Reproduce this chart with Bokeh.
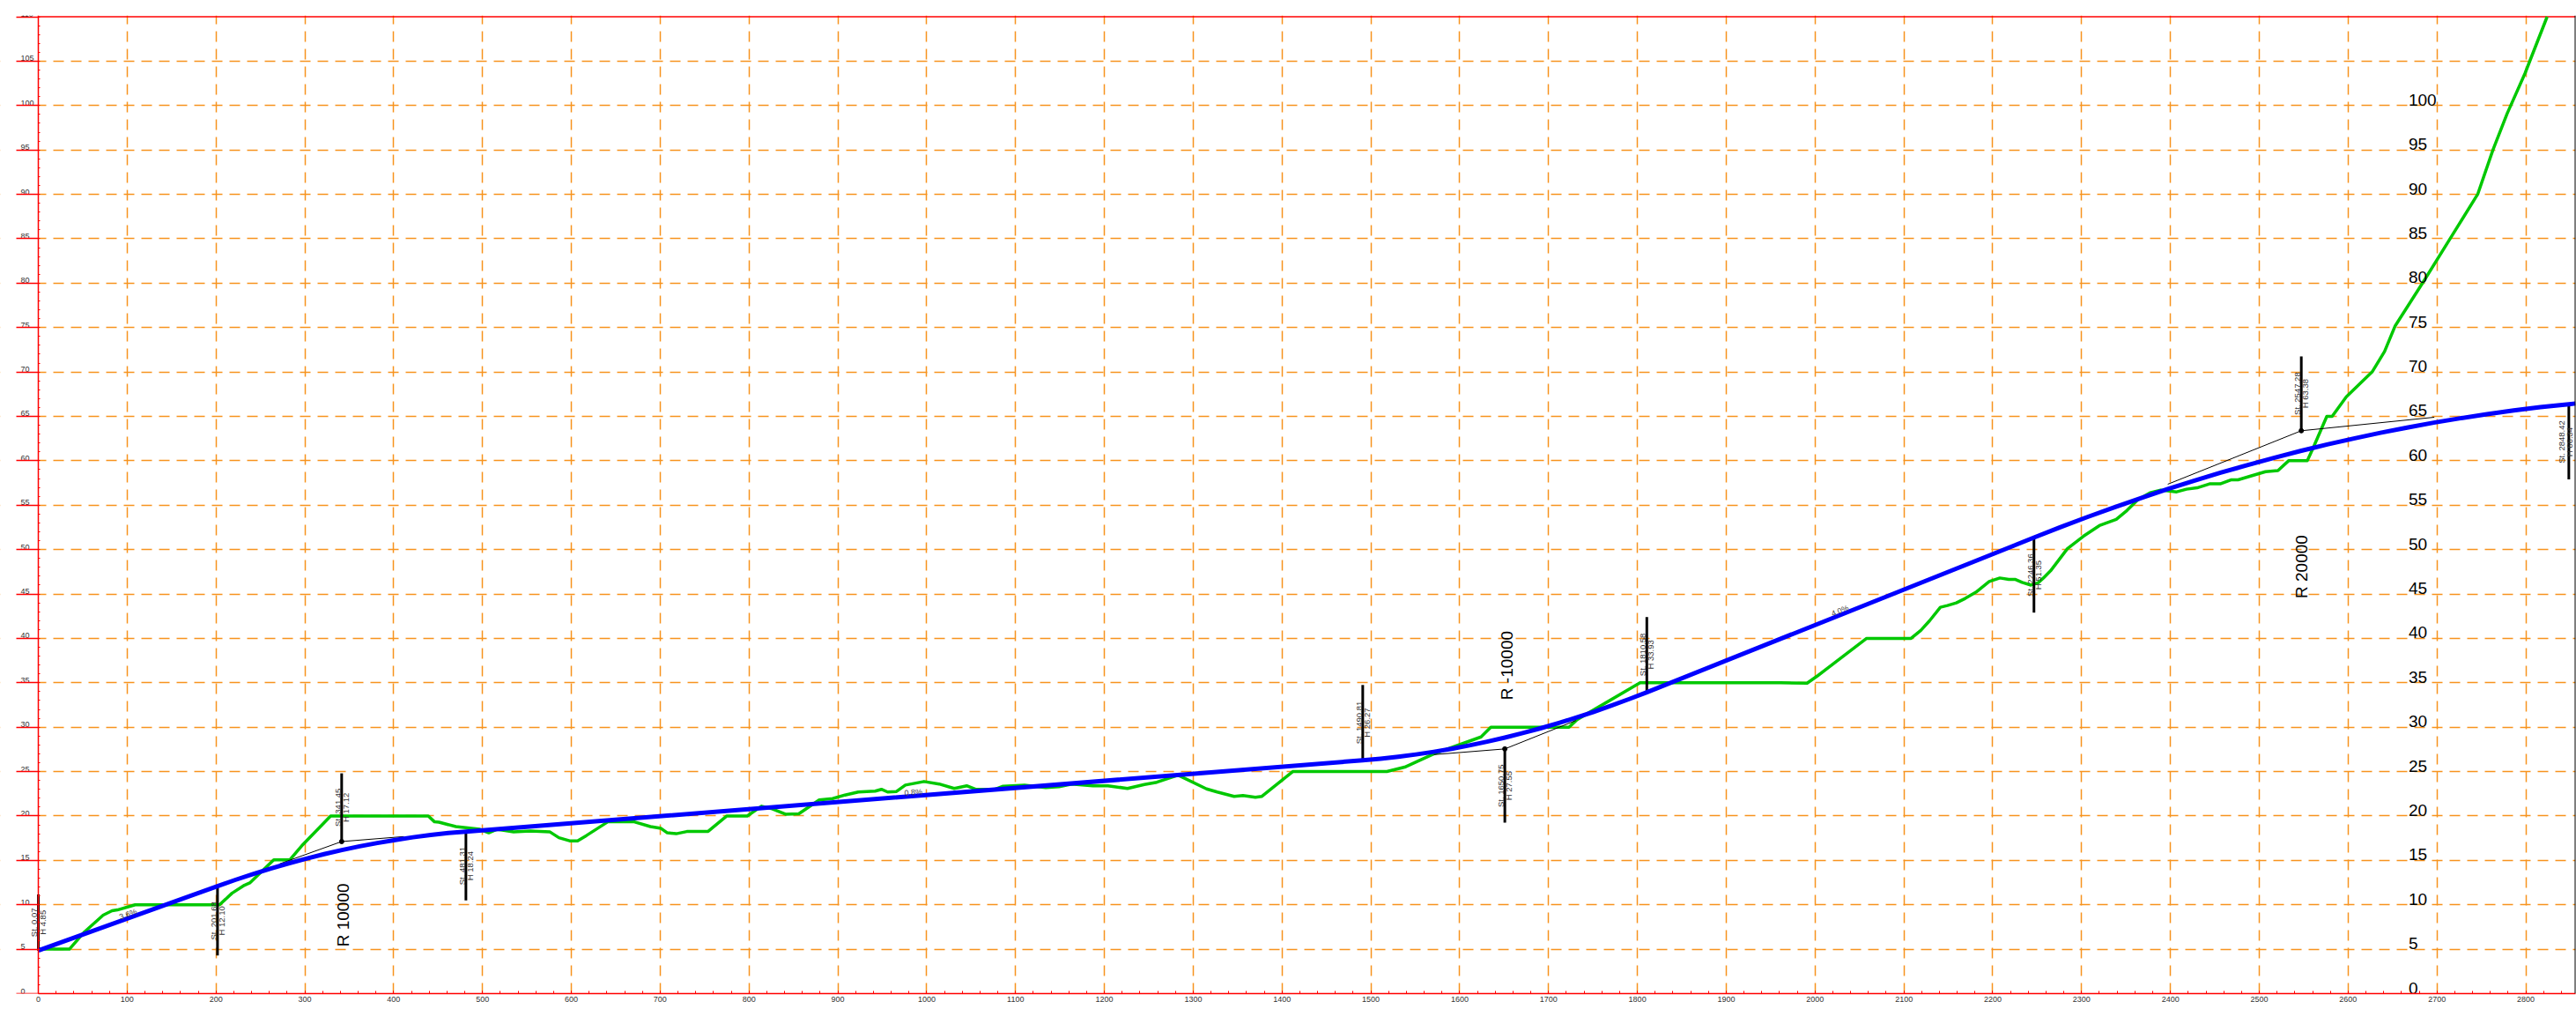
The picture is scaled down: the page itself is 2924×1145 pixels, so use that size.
import math
from bokeh.plotting import figure
from bokeh.models import Range1d, FixedTicker, Span, LinearAxis
from bokeh.core.properties import value
from bokeh.embed import file_html
from bokeh.resources import INLINE

# ---------------- data ----------------
# existing ground (green)
ground_st = [0, 35, 52, 73, 83, 89, 109, 204, 218, 232, 238, 265, 283, 298, 329, 439, 446, 451, 470, 497,
             507, 516, 535, 554, 576, 586, 598, 607, 617, 641, 670, 689, 701, 708, 718, 730, 754, 775, 798,
             814, 826, 841, 856, 879, 894, 908, 923, 942, 949, 956, 966, 976, 997, 1014, 1031, 1045, 1055,
             1077, 1086, 1110, 1134, 1149, 1163, 1187, 1204, 1226, 1245, 1259, 1283, 1315, 1327, 1346, 1356,
             1370, 1377, 1412, 1518, 1538, 1571, 1624, 1635, 1723, 1732, 1803, 1961, 1991, 2003, 2058, 2108,
             2119, 2129, 2141, 2149, 2159, 2169, 2181, 2196, 2208, 2218, 2225, 2233, 2243, 2251, 2257, 2265,
             2284, 2302, 2320, 2339, 2351, 2363, 2377, 2389, 2407, 2418, 2430, 2444, 2456, 2468, 2476, 2491,
             2507, 2521, 2533, 2554, 2560, 2576, 2582, 2598, 2627, 2641, 2653, 2685, 2716, 2746, 2763, 2779,
             2799, 2824]
ground_h = [5.0, 5.0, 6.95, 8.83, 9.33, 9.42, 10.0, 10.0, 11.3, 12.2, 12.46, 15.05, 15.05, 16.8, 20.0, 20.0,
            19.34, 19.3, 18.8, 18.5, 18.1, 18.5, 18.2, 18.3, 18.2, 17.55, 17.2, 17.2, 17.8, 19.34, 19.37, 18.8,
            18.6, 18.1, 18.0, 18.25, 18.27, 20.0, 20.0, 21.1, 20.8, 20.2, 20.25, 21.8, 21.96, 22.36, 22.7, 22.8,
            23.0, 22.7, 22.76, 23.48, 23.88, 23.6, 23.1, 23.4, 23.0, 23.0, 23.35, 23.48, 23.2, 23.3, 23.6, 23.4,
            23.4, 23.1, 23.55, 23.8, 24.6, 23.05, 22.7, 22.2, 22.3, 22.1, 22.2, 25.0, 25.0, 25.5, 27.0, 28.9,
            30.0, 30.0, 30.85, 35.0, 35.0, 34.95, 35.8, 40.0, 40.0, 40.9, 42.0, 43.5, 43.7, 44.0, 44.5, 45.2,
            46.4, 46.8, 46.65, 46.65, 46.3, 46.0, 46.25, 46.8, 47.6, 50.1, 51.5, 52.7, 53.4, 54.4, 55.6, 56.4,
            56.7, 56.5, 56.8, 56.95, 57.4, 57.4, 57.85, 57.85, 58.3, 58.77, 58.9, 60.0, 60.0, 61.3, 65.0, 65.0,
            67.2, 70.0, 72.3, 75.2, 80.2, 85.2, 90.05, 95.0, 99.1, 103.6, 110.0]

# design grade line (blue)
design_st = [0.07, 201.68, 221.68, 241.68, 261.68, 281.68, 301.68, 321.68, 341.68, 361.68, 381.68, 401.68,
             421.68, 441.68, 461.68, 481.31, 1490.81, 1510.81, 1530.81, 1550.81, 1570.81, 1590.81, 1610.81,
             1630.81, 1650.81, 1670.81, 1690.81, 1710.81, 1730.81, 1750.81, 1770.81, 1790.81, 1810.58,
             2246.36, 2276.36, 2306.36, 2336.36, 2366.36, 2396.36, 2426.36, 2456.36, 2486.36, 2516.36,
             2546.36, 2576.36, 2606.36, 2636.36, 2666.36, 2696.36, 2726.36, 2756.36, 2786.36, 2816.36,
             2848.42, 2856]
design_h = [4.85, 12.10, 12.80, 13.46, 14.08, 14.66, 15.20, 15.70, 16.16, 16.58, 16.96, 17.30, 17.60, 17.86,
            18.08, 18.24, 26.27, 26.45, 26.67, 26.93, 27.23, 27.57, 27.95, 28.37, 28.83, 29.33, 29.87, 30.45,
            31.07, 31.73, 32.43, 33.17, 33.93, 51.35, 52.53, 53.66, 54.75, 55.79, 56.79, 57.74, 58.65, 59.51,
            60.33, 61.10, 61.83, 62.51, 63.15, 63.74, 64.29, 64.79, 65.25, 65.66, 66.03, 66.37, 66.45]

# key stations (St / H) and the far end of their marker bars
key_st = [0.07, 201.68, 341.45, 481.31, 1490.81, 1650.75, 1810.58, 2246.36, 2547.28, 2848.42]
key_h = [4.85, 12.10, 17.12, 18.24, 26.27, 27.55, 33.93, 51.35, 63.38, 66.34]
key_tip = [11.16, 4.3, 24.8, 10.5, 34.75, 19.25, 42.4, 42.9, 71.75, 57.9]

# PVI tangent polygons
tangent_st = [[271.7, 341.45, 411.45], [1570.8, 1650.75, 1730.75], [2397.0, 2547.28, 2697.0]]
tangent_h = [[14.61, 17.12, 17.68], [26.91, 27.55, 30.75], [57.36, 63.38, 64.9]]
pvi_st = [341.45, 1650.75, 2547.28]
pvi_h = [17.12, 27.55, 63.38]

# vertical curve radii
radius_text = ["R 10000", "R -10000", "R 20000"]
# grades
grade_text = ["3.6%", "0.8%", "4.0%"]
grade_val = [0.036, 0.008, 0.040]

# axis tick labels
x_ticks = list(range(0, 2801, 100))
y_ticks = list(range(0, 111, 5))
right_ticks = list(range(0, 101, 5))

# ------------- annotation anchors (layout) -------------
radius_pos_st = [343, 1653, 2548]
radius_pos_h = [8.84, 36.96, 48.07]
grade_pos_st = [101, 985, 2028]
grade_pos_h = [8.94, 22.66, 43.1]

# ---------------- figure ----------------
W, H = 2924, 1145
BL, BR, BT, BB = 0, 1, 17, 18
X_END = 2856
Y_END = 110.15
AXIS_PX = 43                     # screen gap between canvas left and the x=0 axis
frame_w = W - BL - BR
frame_h = H - BT - BB
px_per_x = (frame_w - AXIS_PX) / X_END
X0 = -AXIS_PX / px_per_x
px_per_y = frame_h / Y_END

p = figure(width=W, height=H, x_range=Range1d(X0, X_END), y_range=Range1d(0, Y_END),
           output_backend="svg", toolbar_location=None,
           min_border_left=BL, min_border_right=BR, min_border_top=BT, min_border_bottom=BB)
p.outline_line_color = None
p.background_fill_color = "white"
p.border_fill_color = "white"

RED = "#FF0000"
ORANGE = "#F7931E"
TXT = "#333333"

# bottom axis
xa = p.xaxis[0]
xa.ticker = FixedTicker(ticks=x_ticks, minor_ticks=list(range(0, X_END + 1, 20)))
xa.bounds = (0, X_END)
xa.axis_line_color = RED
xa.axis_line_width = 1.5
xa.major_tick_line_color = RED
xa.major_tick_in = 3
xa.major_tick_out = 0
xa.minor_tick_line_color = RED
xa.minor_tick_in = 3
xa.minor_tick_out = 0
xa.major_label_text_font = "Liberation Sans"
xa.major_label_text_font_size = "9px"
xa.major_label_text_color = TXT
xa.major_label_standoff = 3

# left axis at x = 0: long red ticks every 5, short ticks every 1
ya = p.yaxis[0]
ya.fixed_location = 0
ya.ticker = FixedTicker(ticks=[], minor_ticks=y_ticks)
ya.axis_line_color = RED
ya.axis_line_width = 1.5
ya.major_tick_line_color = None
ya.minor_tick_line_color = RED
ya.minor_tick_line_width = 1.5
ya.minor_tick_out = 25
ya.minor_tick_in = 0

ya2 = LinearAxis(fixed_location=0, ticker=FixedTicker(ticks=[], minor_ticks=list(range(0, 111))),
                 axis_line_color=None, major_tick_line_color=None,
                 minor_tick_line_color=RED, minor_tick_in=2, minor_tick_out=0)
p.add_layout(ya2, "left")

p.xgrid.ticker = FixedTicker(ticks=[t for t in x_ticks if t > 0])
p.ygrid.ticker = FixedTicker(ticks=[t for t in y_ticks if 0 < t < 110])
for g in (p.xgrid[0], p.ygrid[0]):
    g.grid_line_color = ORANGE
    g.grid_line_dash = "12 8"
    g.grid_line_width = 1.5

# blank the strip left of the elevation axis (grid lines start at x = 0)
p.quad(left=X0, right=0, bottom=0, top=Y_END, fill_color="white", line_color=None)

# top border
p.line([0, X_END], [110, 110], line_color=RED, line_width=1.5)
p.add_layout(Span(location=X_END, dimension="height", line_color="black", line_width=2))

# left axis labels (above tick lines)
p.text(x=[-20 / px_per_x] * len(y_ticks), y=y_ticks, text=[str(v) for v in y_ticks],
       text_align="left", text_baseline="bottom",
       text_font=value("Liberation Sans"), text_font_size="9px", text_color=TXT)

# ground
p.line(ground_st, ground_h, line_color="#00C800", line_width=3.5, line_join="round")

# tangent lines
for tst, th in zip(tangent_st, tangent_h):
    p.line(tst, th, line_color="black", line_width=1)

# marker bars
p.segment(x0=key_st, y0=key_h, x1=key_st, y1=key_tip, line_color="black", line_width=3)

# design line
p.line(design_st, design_h, line_color="#0000FF", line_width=5, line_join="round")
p.scatter(pvi_st, pvi_h, size=5, color="black")

# marker texts (kept inside the right frame edge)
dx = 4.7 / px_per_x
x_lim = X_END - 7 / px_per_x
h_x = [min(s + dx, x_lim) for s in key_st]
st_x = [hx - 2 * dx for hx in h_x]
mid = [(a + b) / 2 for a, b in zip(key_h, key_tip)]
p.text(x=st_x + h_x,
       y=mid + mid,
       text=["St. %.2f" % s for s in key_st] + ["H %.2f" % h for h in key_h],
       angle=math.pi / 2, text_align="center", text_baseline="middle",
       text_font=value("Liberation Sans"), text_font_size="9.5px", text_color=TXT)

# radius labels
p.text(x=radius_pos_st, y=radius_pos_h, text=radius_text, angle=math.pi / 2,
       text_align="center", text_baseline="middle",
       text_font=value("Liberation Sans"), text_font_size="19px", text_color="black")

# grade labels
ratio = px_per_y / px_per_x
p.text(x=grade_pos_st, y=grade_pos_h, text=grade_text,
       angle=[math.atan(g * ratio) for g in grade_val],
       text_align="center", text_baseline="middle",
       text_font=value("Liberation Sans"), text_font_size="9px", text_color="#444444")

# right side elevation labels
p.text(x=[2668] * len(right_ticks), y=right_ticks, text=[str(v) for v in right_ticks],
       text_align="left", text_baseline="bottom",
       text_font=value("Liberation Sans"), text_font_size="19px", text_color="black")

open("out.html", "w").write(file_html(p, INLINE))
